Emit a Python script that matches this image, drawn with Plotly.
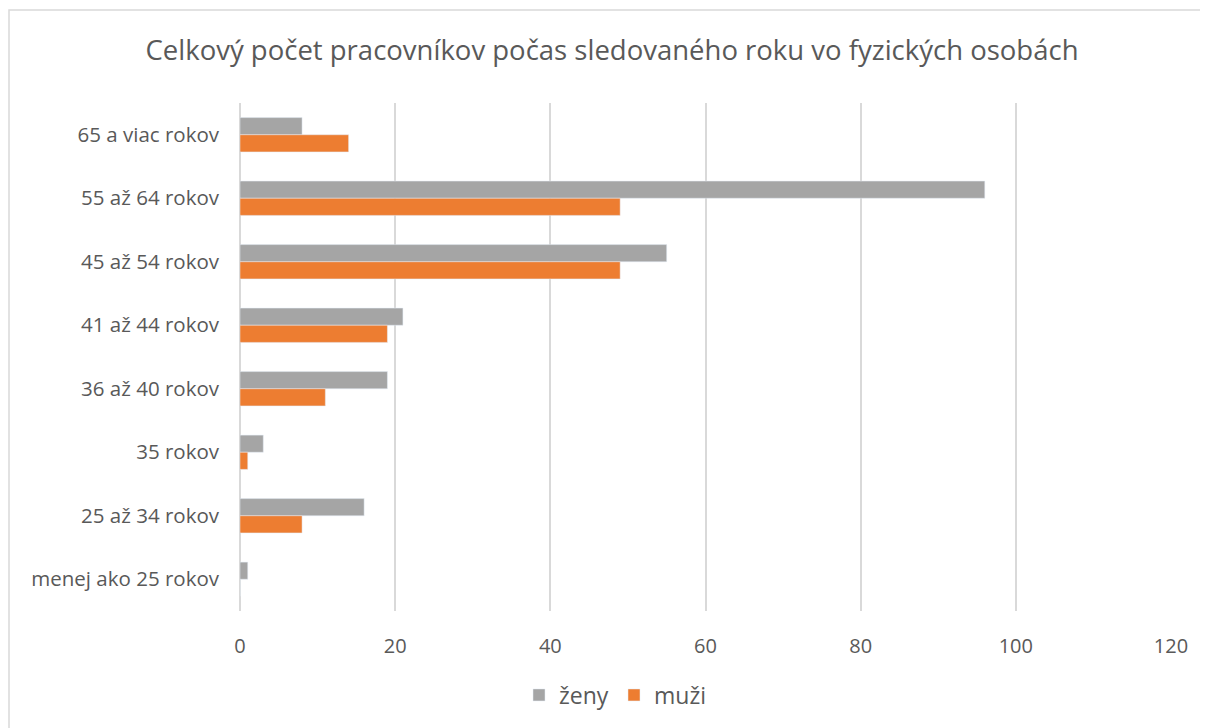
import plotly.graph_objects as go

categories = ["65 a viac rokov", "55 až 64 rokov", "45 až 54 rokov", "41 až 44 rokov",
              "36 až 40 rokov", "35 rokov", "25 až 34 rokov", "menej ako 25 rokov"]
zeny = [8, 96, 55, 21, 19, 3, 16, 1]
muzi = [14, 49, 49, 19, 11, 1, 8, 0]
x_ticks = [0, 20, 40, 60, 80, 100, 120]

FONT = "Open Sans, Liberation Sans, sans-serif"
TXT = "#595959"

fig = go.Figure()
fig.add_trace(go.Bar(y=categories, x=zeny, name="ženy", orientation="h",
                     marker=dict(color="#a5a5a5")))
fig.add_trace(go.Bar(y=categories, x=muzi, name="muži", orientation="h",
                     marker=dict(color="#ed7d31")))

OFF = 8  # page body margin
W, H = 1200, 720
PL, PT, PB = 240, 103, 611  # plot area in page pixels
l, r, t, b = PL - OFF, 37, PT - OFF, (H + OFF) - PB
pw, ph = W - l - r, H - t - b

fig.update_layout(
    width=W, height=H,
    margin=dict(l=l, r=r, t=t, b=b),
    paper_bgcolor="white", plot_bgcolor="white",
    barmode="group", bargap=0.46, bargroupgap=0,
    font=dict(family=FONT, color=TXT, size=20),
    title=dict(text="Celkový počet pracovníkov počas sledovaného roku vo fyzických osobách",
               x=(612 - OFF) / W, xanchor="center", xref="container",
               y=1 - (50 - OFF) / H, yanchor="middle", yref="container",
               font=dict(size=27.5, color=TXT, family=FONT)),
    legend=dict(orientation="h", xref="container", yref="container",
                x=(614 - OFF) / W, xanchor="center", y=1 - (695 - OFF) / H, yanchor="middle",
                font=dict(size=23, color=TXT), traceorder="normal",
                itemwidth=30, entrywidth=50),
    xaxis=dict(range=[0, 120], tickvals=x_ticks, showgrid=True, gridcolor="#d9d9d9",
               gridwidth=1.5, zeroline=True, zerolinecolor="#d9d9d9", zerolinewidth=1.5,
               showline=False, ticks="", tickfont=dict(size=20, color=TXT),
               ticklabelstandoff=21),
    yaxis=dict(autorange="reversed", showgrid=False, ticks="", ticklen=0,
               tickfont=dict(size=20.5, color=TXT), ticklabelstandoff=20),
    shapes=[dict(type="rect", xref="paper", yref="paper",
                 x0=(9 - PL) / pw, x1=(1214 - PL) / pw,
                 y0=1 + (PT - 734) / ph, y1=1 + (PT - 10) / ph,
                 line=dict(color="#d9d9d9", width=1.5), fillcolor="rgba(0,0,0,0)",
                 layer="below")],
)

fig.write_html("out.html")
